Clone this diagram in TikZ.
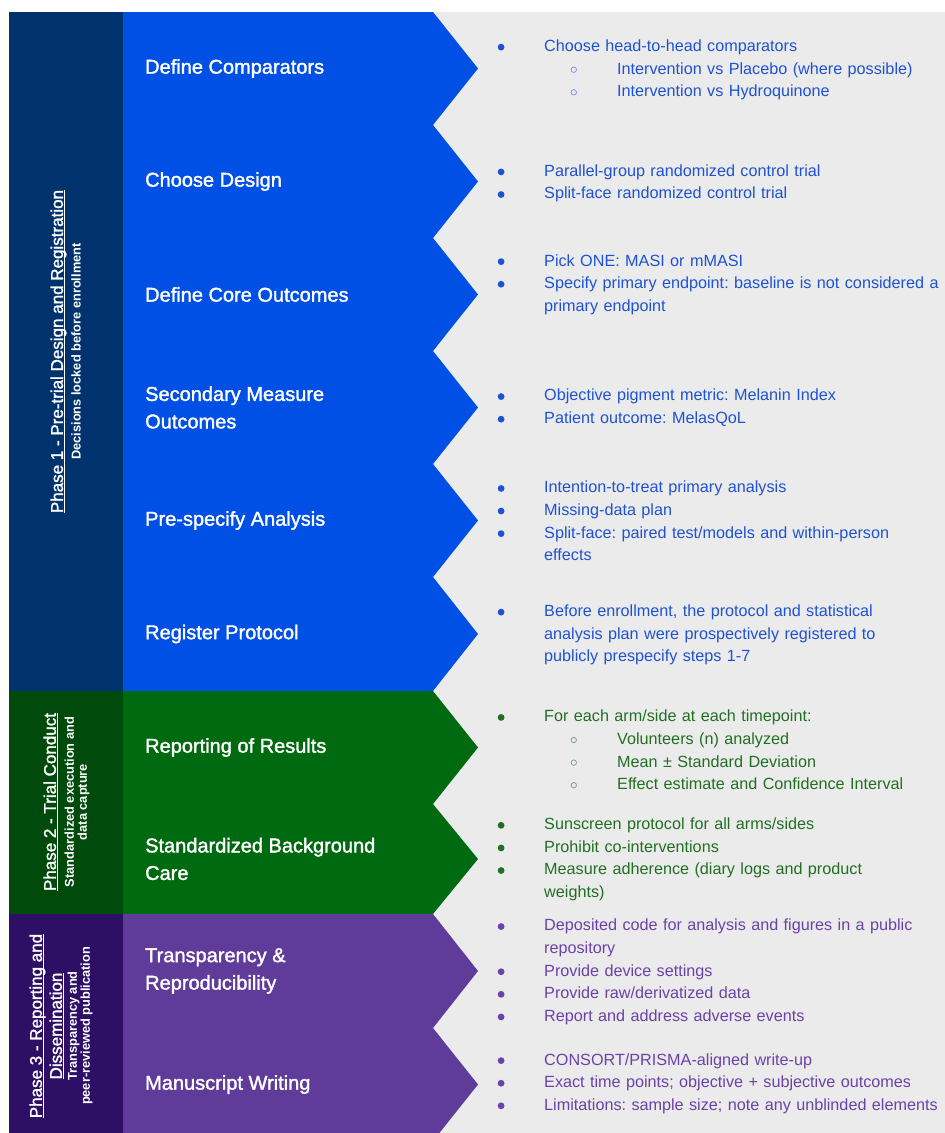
\documentclass[tikz,border=0pt]{standalone}
\usepackage{fontspec}
\setmainfont{Liberation Sans}
\newfontfamily\medfont{Liberation Sans}[BoldFont={Liberation Sans},BoldFeatures={FakeBold=1.6}]
\frenchspacing

\definecolor{phaseblue}{HTML}{00336E}
\definecolor{stepblue}{HTML}{0050E6}
\definecolor{phasegreen}{HTML}{004A0B}
\definecolor{stepgreen}{HTML}{006A10}
\definecolor{phasepurple}{HTML}{2D0F66}
\definecolor{steppurple}{HTML}{5F3C9A}
\definecolor{panel}{HTML}{EBEBEB}
\definecolor{textblue}{HTML}{1F52D3}
\definecolor{textgreen}{HTML}{226F24}
\definecolor{textpurple}{HTML}{6B42A8}

% underline with a visible rule
\newcommand\undl[1]{\setbox0\hbox{#1}\rlap{\rule[-2.6pt]{\wd0}{1.2pt}}\box0}
% bullet marks and the two list levels
\newcommand\dotmark{\tikz[baseline=-4.4pt]\fill (0,0) circle (3.4pt);}
\newcommand\ringmark{{\color{.!60}\tikz[baseline=-4.4pt]\draw[line width=0.8pt] (0,0) circle (2.7pt);}}
\newcommand\bitem[1]{\par\hangindent=44pt\hangafter=1\noindent\makebox[44pt][l]{\hspace*{-2.5pt}\dotmark}#1\par}
\newcommand\sitem[1]{\par\noindent\hspace*{70.5pt}\makebox[46.5pt][l]{\ringmark}#1\par}

\begin{document}
\begin{tikzpicture}[x=1pt,y=-1pt,
  steptitle/.style={anchor=west,inner sep=0pt,text=white,align=left,font=\medfont\bfseries\fontsize{20}{27.5}\selectfont},
  detail/.style={anchor=west,inner sep=0pt,text width=445pt,align=left,font=\fontsize{16.2}{22.6}\selectfont},
  phasetitle/.style={rotate=90,inner sep=0pt,text=white,align=center,font=\medfont\bfseries\fontsize{17}{20}\selectfont},
  phasesub/.style={rotate=90,inner sep=0pt,text=white,align=center,font=\bfseries\fontsize{12.8}{13}\selectfont}]
 \clip (0,0) rectangle (945,1133);
 \fill[white] (0,0) rectangle (945,1133);
 \fill[panel] (9,12) rectangle (945,1141);
 \fill[phaseblue] (9,12) rectangle (123,691);
 \fill[phasegreen] (9,691) rectangle (123,914);
 \fill[phasepurple] (9,914) rectangle (123,1141);
 \foreach \t/\b/\c in {12/125/stepblue,125/238/stepblue,238/351/stepblue,351/464/stepblue,464/577/stepblue,
   577/691/stepblue,691/804/stepgreen,804/914/stepgreen,914/1028/steppurple,1028/1141/steppurple}
   \fill[\c] (123,\t) -- (433,\t) -- (478,{(\t+\b)/2}) -- (433,\b) -- (123,\b) -- cycle;

 \node[phasetitle] (ph1) at (58.5,351.5) {\undl{Phase 1 - Pre-trial Design and Registration}};
 \node[phasesub] (ph1sub) at (76,351.5) {Decisions locked before enrollment};
 \node[phasetitle] (ph2) at (51,802) {\undl{Phase 2 - Trial Conduct}};
 \node[phasesub] (ph2sub) at (77,802) {Standardized execution and\\data capture};
 \node[phasetitle] (ph3) at (47,1026) {\undl{Phase 3 - Reporting and}\\\undl{Dissemination}};
 \node[phasesub] (ph3sub) at (80,1026) {Transparency and\\peer-reviewed publication};

 \node[steptitle] (s1) at (145,68.5) {Define Comparators};
 \node[steptitle] (s2) at (145,181.5) {Choose Design};
 \node[steptitle] (s3) at (145,294.5) {Define Core Outcomes};
 \node[steptitle] (s4) at (145,407.5) {Secondary Measure\\Outcomes};
 \node[steptitle] (s5) at (145,520.5) {Pre-specify Analysis};
 \node[steptitle] (s6) at (145,634) {Register Protocol};
 \node[steptitle] (s7) at (145,747.5) {Reporting of Results};
 \node[steptitle] (s8) at (145,859) {Standardized Background\\Care};
 \node[steptitle] (s9) at (145,971) {Transparency \&\\Reproducibility};
 \node[steptitle] (s10) at (145,1084.5) {Manuscript Writing};

 \node[detail,text=textblue] (d1) at (500,64.5) {\bitem{Choose head-to-head comparators}
   \sitem{Intervention vs Placebo (where possible)}\sitem{Intervention vs Hydroquinone}};
 \node[detail,text=textblue] (d2) at (500,178) {\bitem{Parallel-group randomized control trial}
   \bitem{Split-face randomized control trial}};
 \node[detail,text=textblue] (d3) at (500,279) {\bitem{Pick ONE: MASI or mMASI}
   \bitem{Specify primary endpoint: baseline is not considered a\newline primary endpoint}};
 \node[detail,text=textblue] (d4) at (500,402.5) {\bitem{Objective pigment metric: Melanin Index}
   \bitem{Patient outcome: MelasQoL}};
 \node[detail,text=textblue] (d5) at (500,515.5) {\bitem{Intention-to-treat primary analysis}
   \bitem{Missing-data plan}\bitem{Split-face: paired test/models and within-person\newline effects}};
 \node[detail,text=textblue] (d6) at (500,629.5) {\bitem{Before enrollment, the protocol and statistical\newline
   analysis plan were prospectively registered to\newline publicly prespecify steps 1-7}};
 \node[detail,text=textgreen] (d7) at (500,744.5) {\bitem{For each arm/side at each timepoint:}
   \sitem{Volunteers (n) analyzed}\sitem{Mean ± Standard Deviation}\sitem{Effect estimate and Confidence Interval}};
 \node[detail,text=textgreen] (d8) at (500,854) {\bitem{Sunscreen protocol for all arms/sides}
   \bitem{Prohibit co-interventions}\bitem{Measure adherence (diary logs and product\newline weights)}};
 \node[detail,text=textpurple] (d9) at (500,966.5) {\bitem{Deposited code for analysis and figures in a public\newline repository}
   \bitem{Provide device settings}\bitem{Provide raw/derivatized data}\bitem{Report and address adverse events}};
 \node[detail,text=textpurple] (d10) at (500,1078) {\bitem{CONSORT/PRISMA-aligned write-up}
   \bitem{Exact time points; objective + subjective outcomes}\bitem{Limitations: sample size; note any unblinded elements}};
\end{tikzpicture}
\end{document}
